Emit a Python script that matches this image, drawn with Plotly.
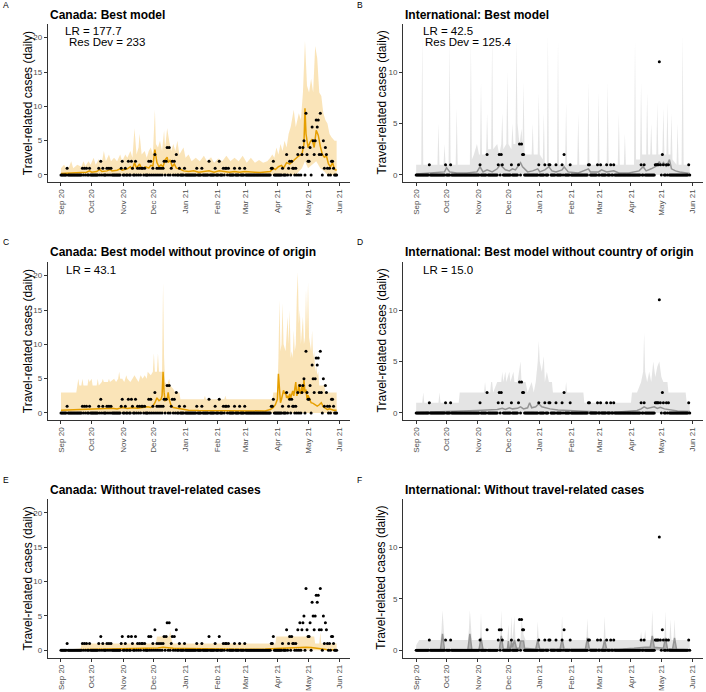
import pandas as pd
import plotly.graph_objects as go

W, H = 706, 692
START = pd.Timestamp("2020-09-01")
N_DAYS = 271  # Sep 1 2020 .. May 29 2021

# ---------------- observed daily counts (non-zero days; all other days = 0) ----
canada_nonzero = {6:1, 21:1, 23:1, 25:1, 28:1, 37:1, 39:2, 41:1, 45:1, 47:1, 49:1,
    59:1, 60:2, 63:1, 66:2, 69:2, 70:1, 73:2, 75:1, 77:1, 79:1, 80:1, 82:1, 86:2,
    88:2, 90:1, 92:3, 94:1, 96:1, 98:1, 100:1, 101:2, 103:2, 104:4, 106:4, 108:1,
    109:2, 111:2, 113:3, 116:1, 121:1, 133:1, 138:1, 145:2, 151:1, 155:2, 159:1,
    161:1, 162:1, 164:1, 170:1, 175:1, 180:1, 206:1, 207:1, 208:2, 217:1, 221:3,
    223:1, 224:2, 226:2, 227:1, 228:1, 230:1, 232:3, 234:4, 236:3, 237:4, 238:5,
    240:9, 241:3, 242:2, 243:2, 244:4, 246:7, 247:5, 248:3, 249:5, 250:8, 251:7,
    252:8, 253:3, 254:9, 255:3, 257:5, 258:1, 259:4, 260:3, 261:1, 263:1, 265:2,
    266:2, 267:1}
intl_nonzero = {13:1, 29:1, 34:1, 63:1, 70:2, 81:1, 82:2, 84:2, 85:1, 94:1, 101:1,
    102:3, 104:3, 105:2, 106:2, 121:1, 127:1, 131:1, 132:1, 138:1, 144:1, 146:2,
    152:1, 170:1, 171:1, 179:1, 182:1, 188:1, 192:1, 195:1, 222:1, 225:1, 236:1,
    237:1, 238:1, 239:1, 240:11, 241:1, 243:2, 244:1, 247:1, 249:1, 269:1}

# ---------------- model fits: (day, value) knots --------
A_mean = [(0,0.2),(5,0.25),(10,0.3),(15,0.3),(20,0.35),(25,0.4),(28,0.6),(30,0.4),(35,0.5),
    (38,0.8),(40,0.5),(45,0.6),(48,0.8),(50,0.6),(55,0.7),(58,0.9),(60,0.7),(65,0.9),(68,1.2),
    (70,0.8),(72,1.8),(74,1.0),(77,1.6),(79,0.9),(83,1.2),(86,1.0),(88,1.4),(90,1.3),(92,3.7),
    (94,1.8),(96,1.2),(98,1.5),(100,1.2),(102,2.2),(104,2.6),(105,1.8),(107,2.2),(109,1.2),
    (111,1.6),(113,1.0),(116,0.9),(120,0.6),(125,0.5),(130,0.6),(135,0.4),(140,0.5),(145,0.6),
    (150,0.4),(155,0.6),(160,0.5),(165,0.4),(170,0.5),(175,0.4),(180,0.5),(185,0.4),(190,0.4),
    (195,0.35),(200,0.4),(205,0.5),(208,1.0),(210,0.8),(213,1.2),(216,1.4),(218,1.0),(221,1.8),
    (224,1.6),(227,2.0),(230,2.4),(233,2.8),(236,3.0),(238,4.5),(239,9.7),(240,6.0),(242,4.0),
    (244,4.8),(246,5.2),(248,4.0),(250,6.5),(252,5.8),(254,4.2),(256,3.0),(258,2.6),(260,2.8),
    (262,1.6),(264,1.2),(266,1.8),(268,0.8),(270,0.7)]
A_up = [(0,1.0),(3,1.5),(5,1.0),(8,1.2),(10,2.0),(12,1.0),(16,1.5),(20,1.2),(22,2.0),(24,1.3),
    (27,2.0),(29,1.5),(32,2.5),(34,1.5),(37,2.3),(40,1.8),(42,3.5),(44,2.0),(47,3.0),(49,2.0),
    (52,2.5),(55,2.0),(58,3.0),(60,2.0),(63,3.0),(65,2.5),(68,3.5),(70,2.5),(72,6.8),(74,3.0),
    (76,4.0),(77,6.0),(79,3.0),(82,3.5),(84,2.5),(86,3.5),(88,4.0),(90,3.0),(92,9.5),(93,4.5),
    (95,4.0),(97,5.0),(99,3.5),(101,6.5),(102,4.0),(104,6.8),(106,5.0),(108,3.5),(110,4.5),
    (112,3.5),(114,5.0),(116,3.0),(118,3.5),(120,4.0),(122,2.5),(125,3.0),(128,2.0),(132,2.5),
    (136,2.0),(140,2.8),(143,2.0),(147,2.6),(150,1.8),(154,2.4),(158,2.0),(162,2.8),(166,2.0),
    (170,2.5),(174,2.0),(178,2.8),(182,1.8),(186,2.5),(190,1.8),(194,2.2),(198,1.8),(202,2.0),
    (205,2.5),(207,3.0),(209,2.5),(211,4.0),(213,3.0),(215,4.5),(217,3.5),(219,5.0),(221,4.0),
    (223,6.0),(225,7.0),(228,9.5),(230,7.0),(233,9.0),(235,8.0),(237,12.0),(239,19.5),(241,13.0),
    (243,12.0),(245,14.0),(247,12.0),(249,18.8),(251,17.0),(253,12.0),(255,11.5),(257,9.0),
    (259,8.0),(261,7.5),(263,6.0),(265,5.5),(268,5.0),(270,5.0)]
A_lo = [(0,0),(230,0),(233,0.5),(236,1.0),(239,2.0),(242,1.0),(246,1.5),(250,2.0),(254,1.0),
    (258,0.5),(261,0),(270,0)]

C_mean = [(0,0.4),(10,0.45),(20,0.55),(30,0.6),(40,0.65),(50,0.7),(55,0.6),(60,0.8),(65,0.65),
    (70,0.75),(75,0.7),(80,0.8),(85,0.9),(88,0.8),(90,1.0),(92,1.5),(94,2.2),(96,1.8),(98,2.0),
    (99,2.5),(100,6.0),(101,3.0),(102,1.8),(104,2.0),(105,3.0),(106,2.0),(108,1.0),(110,0.8),
    (114,0.7),(118,0.5),(125,0.4),(135,0.35),(145,0.35),(155,0.4),(165,0.35),(175,0.35),
    (185,0.35),(195,0.3),(200,0.3),(205,0.5),(208,0.8),(210,1.2),(212,2.0),(213,5.7),(214,3.5),
    (215,1.5),(216,2.0),(218,3.3),(219,2.8),(220,3.0),(221,2.2),(222,2.5),(223,2.0),(224,2.8),
    (225,2.2),(226,2.8),(227,3.2),(228,2.5),(229,3.8),(230,4.5),(231,2.5),(232,3.0),(233,4.2),
    (234,3.0),(235,2.8),(236,4.0),(237,3.0),(238,4.8),(239,3.0),(240,3.4),(241,2.0),(242,2.6),
    (243,2.2),(244,1.8),(245,1.5),(247,1.4),(249,1.2),(251,1.0),(253,1.2),(255,1.5),(257,0.9),
    (259,0.7),(261,0.5),(263,0.6),(265,0.5),(267,0.4),(270,0.4)]
C_up = [(0,3),(15,3),(16,4),(17,5),(18,4),(20,4),(21,5),(22,4),(26,4),(27,5),(28,4.5),(30,5),
    (31,4),(35,4),(36,5),(37,4),(40,4.5),(41,5),(42,4.5),(46,4.5),(47,5),(48,4.5),(52,5),(54,4.5),
    (56,5),(57,6),(58,5),(60,5),(62,4.5),(64,5.5),(65,5),(68,4.5),(70,5),(72,5.5),(74,5),(76,4.5),
    (78,5.5),(80,5),(82,5.5),(84,5),(85,6),(88,5.5),(90,6),(91,8.7),(92,6),(94,6),(95,8.7),(96,6),
    (99,6),(100,19),(101,8),(102,4.5),(104,4),(106,5),(107,4),(110,3.5),(112,3),(116,3),(117,2),
    (140,2),(141,2.5),(142,2),(160,2),(161,2.5),(162,2),(207,2),(208,3),(212,3),(213,8),
    (214,16.5),(215,9),(216,10),(217,16),(218,10),(220,9),(222,14),(223,10),(224,15),(225,8),
    (226,9),(227,8),(228,12),(229,9),(230,10),(231,17),(232,20.5),(233,13),(234,15),(235,10),
    (236,12),(237,14),(238,10),(239,11),(240,18),(241,12),(242,19),(243,11),(244,10),(245,9),
    (246,12),(247,8),(248,9),(249,6),(250,7),(251,5.5),(252,6),(253,4),(258,4),(259,3),(270,3)]
C_lo = [(0,0),(270,0)]

E_mean = [(0,0.05),(20,0.1),(40,0.15),(60,0.2),(80,0.25),(90,0.3),(95,0.35),(100,0.45),
    (105,0.35),(110,0.3),(120,0.25),(140,0.2),(160,0.18),(180,0.15),(200,0.18),(210,0.25),
    (220,0.35),(230,0.4),(240,0.45),(245,0.4),(250,0.3),(255,0.2),(260,0.12),(270,0.05)]
E_up = [(0,0),(19,0),(20,1),(93,1),(94,2),(106,2),(107,2.8),(108,2),(109,1),(210,1),(211,2),
    (248,2),(249,1),(253,1),(254,2.6),(255,1),(270,1)]
E_lo = [(0,0),(270,0)]

B_mean = [(0,0.1),(10,0.15),(20,0.2),(28,0.3),(30,0.7),(33,0.3),(40,0.2),(50,0.2),(60,0.3),
    (63,0.8),(66,0.3),(70,0.5),(75,0.3),(80,0.6),(83,1.0),(85,0.8),(88,0.5),(92,0.4),(95,0.6),
    (98,0.5),(101,0.9),(103,1.2),(105,0.8),(108,0.5),(110,0.3),(115,0.4),(120,0.6),(122,0.3),
    (127,0.5),(131,0.8),(134,0.4),(138,0.3),(144,0.5),(146,0.8),(150,0.3),(160,0.2),(170,0.6),
    (172,0.3),(180,0.3),(183,0.5),(188,0.3),(195,0.4),(200,0.2),(210,0.2),(220,0.4),(224,0.8),
    (227,0.4),(232,0.6),(236,0.8),(238,1.0),(240,1.3),(242,0.9),(244,1.2),(247,0.8),(250,1.5),
    (252,0.6),(256,0.4),(260,0.3),(265,0.2),(270,0.15)]
B_up = [(0,1),(5,1),(6,13.5),(7,1),(21,1),(22,5),(23,1),(27,1),(28,3),(29,1),(32,1),(33,13),
    (34,1),(39,1),(40,6.5),(41,1),(53,1),(54,13),(55,1.5),(57,2),(60,3),(62,2),(63,2),(64,9),
    (65,2),(69,2),(70,6),(71,2.5),(74,2.5),(75,13.5),(76,2.5),(80,3),(82,2),(84,3),(85,6),(86,2.5),
    (89,3),(90,10),(91,3),(94,2.5),(95,5),(96,3),(98,3),(99,13),(100,5),(102,3),(104,4.5),
    (105,3),(106,9),(107,2),(114,2),(115,5),(116,2),(120,2),(121,8),(122,2),(125,1.5),(126,6),
    (127,1),(129,1),(130,13.5),(131,1),(139,1),(140,13),(141,1),(147,1),(148,7),(149,1),(159,1),
    (160,6),(161,1),(169,1),(170,9),(171,1),(179,1),(180,8),(181,1),(188,1),(189,9),(190,1),
    (199,1),(200,6),(201,1),(205,1),(206,4),(207,1),(215,1),(216,13),(217,1.5),(221,1.5),
    (222,9),(223,2),(227,2),(228,8),(229,2),(231,2),(232,5),(233,2),(237,2),(238,7),(239,2),
    (243,2),(244,6.5),(245,2),(247,2),(248,7),(249,2),(251,2),(252,6),(253,1.5),(257,1),(258,5),
    (259,1),(262,1),(263,13.5),(264,1),(270,1)]
B_lo = [(0,0),(270,0)]

D_mean = [(0,0.05),(20,0.1),(40,0.15),(55,0.2),(60,0.25),(70,0.3),(80,0.35),(85,0.45),(88,0.35),
    (92,0.5),(95,0.4),(100,0.45),(103,0.6),(106,0.4),(110,0.5),(112,1.0),(114,0.5),(118,0.6),
    (121,0.9),(124,0.6),(128,0.5),(132,0.4),(140,0.3),(150,0.25),(165,0.15),(180,0.1),(200,0.1),
    (210,0.15),(218,0.25),(222,0.4),(225,0.6),(228,0.45),(232,0.5),(235,0.6),(238,0.45),
    (241,0.55),(245,0.4),(250,0.3),(258,0.2),(270,0.15)]
D_up = [(0,1),(6,1),(7,2),(8,1),(22,1),(23,2),(24,1),(42,1),(43,2),(56,2),(67,2),(68,3),(69,2),
    (73,2),(74,3),(75,3),(76,2),(80,3),(84,3),(85,4),(86,3),(88,4),(89,3),(92,4),(93,3),(96,4),
    (97,3),(100,3),(103,5),(104,3),(108,3),(110,2),(114,3),(116,2),(118,3),(120,5),(121,7),
    (122,5),(124,4),(126,5.5),(127,3),(129,4),(131,3),(134,3),(135,2),(147,2),(148,3),(149,2),
    (165,2),(166,1),(212,1),(213,2),(218,2),(222,3),(224,4),(225,7.8),(226,4),(228,3),(230,4),
    (232,3),(234,5),(236,3.5),(238,4.5),(240,5),(242,3.5),(244,3),(248,3),(249,2),(266,2),
    (267,1),(270,1)]
D_lo = [(0,0),(270,0)]

F_mean = [(0,0.05),(24,0.05),(26,1.6),(28,0.05),(51,0.05),(53,1.6),(55,0.05),(62,0.05),(64,1.2),
    (66,0.05),(82,0.05),(84,1.4),(86,0.1),(90,0.1),(91,0.9),(92,0.1),(93,0.1),(94,0.9),(95,0.3),
    (97,1.0),(99,0.2),(102,0.2),(103,0.9),(106,0.9),(107,0.2),(118,0.1),(120,1.0),(122,0.1),
    (142,0.1),(144,1.1),(146,0.1),(167,0.1),(169,1.2),(171,0.1),(184,0.1),(186,1.0),(188,0.1),
    (200,0.1),(215,0.2),(222,0.3),(226,0.3),(231,0.3),(233,1.4),(235,0.3),(244,0.2),(246,1.2),
    (248,0.15),(253,0.1),(255,1.2),(257,0.1),(270,0.05)]
F_up = [(0,0.5),(3,1),(24,1),(25,2),(26,3.9),(27,2),(28,1),(51,1),(52,2),(53,3.9),(54,2),(55,1),
    (63,1),(64,3.6),(65,1),(83,1),(84,3.9),(85,1),(90,1),(91,2.5),(92,1),(93,1),(94,3.3),(95,1),
    (97,3.3),(98,1),(103,1),(104,3.0),(106,1.5),(108,1),(119,1),(120,2.8),(121,1),(143,1),
    (144,3.3),(145,1),(168,1),(169,3.1),(170,1),(185,1),(186,3.3),(187,1),(221,1),(222,1.8),
    (223,1),(225,1),(226,2),(227,1),(232,1),(233,3.9),(234,1.5),(235,1),(245,1),(246,3.8),
    (247,1),(250,1),(251,3.0),(252,1),(254,1),(255,3.0),(256,1),(270,1)]
F_lo = [(0,0),(270,0)]

month_ticks = ["2020-09-01","2020-10-01","2020-11-01","2020-12-01","2021-01-01","2021-02-01",
               "2021-03-01","2021-04-01","2021-05-01","2021-06-01"]
month_labels = ["Sep 20","Oct 20","Nov 20","Dec 20","Jan 21","Feb 21","Mar 21","Apr 21",
                "May 21","Jun 21"]
canada_yticks = [0, 5, 10, 15, 20]
intl_yticks = [0, 5, 10]

# ---------------- styling -------------------------------------------------------
ORANGE = "#E69F00"
ORANGE_BAND = "rgba(238,165,20,0.30)"
GREY = "#959595"
GREY_BAND = "rgba(165,165,165,0.30)"
FONT = "Liberation Sans, Arial, Helvetica, sans-serif"

XD = [(47.7 / W, 350 / W), (403 / W, 703 / W)]
ROWS_PX = [(23.6, 182.2), (261.6, 420.2), (498.9, 657.5)]
YD = [(1 - b / H, 1 - t / H) for t, b in ROWS_PX]


def to_dates(days):
    return START + pd.to_timedelta(list(days), unit="D")


def unzip(knots):
    return [k[0] for k in knots], [k[1] for k in knots]


panels = [
    dict(lab="A", r=0, c=0, title="Canada: Best model", kind="ca", mean=A_mean, up=A_up, lo=A_lo,
         notes=[("LR = 177.7", 63, 30.8), ("Res Dev = 233", 67, 42.2)]),
    dict(lab="B", r=0, c=1, title="International: Best model", kind="in", mean=B_mean, up=B_up,
         lo=B_lo, notes=[("LR = 42.5", 421.3, 30.8), ("Res Dev = 125.4", 423, 42.2)]),
    dict(lab="C", r=1, c=0, title="Canada: Best model without province of origin", kind="ca",
         mean=C_mean, up=C_up, lo=C_lo, notes=[("LR = 43.1", 64, 269.7)]),
    dict(lab="D", r=1, c=1, title="International: Best model without country of origin", kind="in",
         mean=D_mean, up=D_up, lo=D_lo, notes=[("LR = 15.0", 421.3, 269.7)]),
    dict(lab="E", r=2, c=0, title="Canada: Without travel-related cases", kind="ca", mean=E_mean,
         up=E_up, lo=E_lo, notes=[]),
    dict(lab="F", r=2, c=1, title="International: Without travel-related cases", kind="in",
         mean=F_mean, up=F_up, lo=F_lo, notes=[]),
]

obs_days = list(range(N_DAYS))
canada_obs = [canada_nonzero.get(d, 0) for d in obs_days]
intl_obs = [intl_nonzero.get(d, 0) for d in obs_days]

fig = go.Figure()
annotations = []
x_range = [(START - pd.Timedelta(days=13.0)).strftime("%Y-%m-%d %H:%M"),
           (START + pd.Timedelta(days=283.1)).strftime("%Y-%m-%d %H:%M")]

for i, p in enumerate(panels):
    n = i + 1
    xa = "x" if n == 1 else f"x{n}"
    ya = "y" if n == 1 else f"y{n}"
    ca = p["kind"] == "ca"
    line_col = ORANGE if ca else GREY
    band_col = ORANGE_BAND if ca else GREY_BAND
    obs = canada_obs if ca else intl_obs

    ud, uv = unzip(p["up"])
    ld, lv = unzip(p["lo"])
    fig.add_trace(go.Scatter(x=list(to_dates(ud)) + list(to_dates(ld))[::-1], y=uv + lv[::-1],
                             fill="toself", fillcolor=band_col, line=dict(width=0), mode="lines",
                             xaxis=xa, yaxis=ya, hoverinfo="skip"))
    md, mv = unzip(p["mean"])
    extra = {}
    if p["lab"] == "F":
        extra = dict(fill="tozeroy", fillcolor="rgba(120,120,120,0.45)")
    fig.add_trace(go.Scatter(x=to_dates(md), y=mv, mode="lines",
                             line=dict(color=line_col, width=1.5), xaxis=xa, yaxis=ya, **extra))
    fig.add_trace(go.Scatter(x=to_dates(obs_days), y=obs, mode="markers",
                             marker=dict(color="black", size=3.0, line=dict(width=0)),
                             xaxis=xa, yaxis=ya))

    axis_common = dict(showline=True, linecolor="#333333", linewidth=1, ticks="outside",
                       ticklen=3, tickcolor="#333333", tickwidth=1, showgrid=False,
                       zeroline=False, automargin=False,
                       tickfont=dict(family=FONT, size=8, color="#4D4D4D"))
    fig.layout[f"xaxis{'' if n == 1 else n}"] = dict(
        axis_common, domain=list(XD[p["c"]]), anchor=ya, type="date", range=x_range,
        tickmode="array", tickvals=month_ticks, ticktext=month_labels, tickangle=-90)
    fig.layout[f"yaxis{'' if n == 1 else n}"] = dict(
        axis_common, domain=list(YD[p["r"]]), anchor=xa,
        range=[-1.05, 22.05] if ca else [-0.7, 14.7],
        tickmode="array", tickvals=canada_yticks if ca else intl_yticks)

    x0 = XD[p["c"]][0] * W
    top, bot = ROWS_PX[p["r"]]
    title_y = [15, 252, 489.7][p["r"]]
    lab_y = [5, 242, 480][p["r"]]
    lab_x = 1 if p["c"] == 0 else 355
    annotations.append(dict(text=p["lab"], x=lab_x / W, y=1 - lab_y / H, xref="paper",
                            yref="paper", xanchor="left", yanchor="middle", showarrow=False,
                            font=dict(family=FONT, size=8.5, color="black")))
    annotations.append(dict(text=f"<b>{p['title']}</b>", x=x0 / W, y=1 - title_y / H,
                            xref="paper", yref="paper", xanchor="left", yanchor="middle",
                            showarrow=False, font=dict(family=FONT, size=12, color="black")))
    ytitle_x = 28.3 if p["c"] == 0 else 381.5
    annotations.append(dict(text="Travel-related cases (daily)", x=ytitle_x / W,
                            y=1 - (top + bot) / 2 / H, xref="paper", yref="paper",
                            xanchor="center", yanchor="middle", textangle=-90, showarrow=False,
                            font=dict(family=FONT, size=12, color="black")))
    for txt, nx, ny in p["notes"]:
        annotations.append(dict(text=txt, x=nx / W, y=1 - ny / H, xref="paper", yref="paper",
                                xanchor="left", yanchor="middle", showarrow=False,
                                font=dict(family=FONT, size=11.5, color="black")))

fig.update_layout(width=W, height=H, margin=dict(l=0, r=0, t=0, b=0), showlegend=False,
                  paper_bgcolor="white", plot_bgcolor="white", hovermode=False,
                  annotations=annotations, font=dict(family=FONT))
fig.write_html("out.html")
